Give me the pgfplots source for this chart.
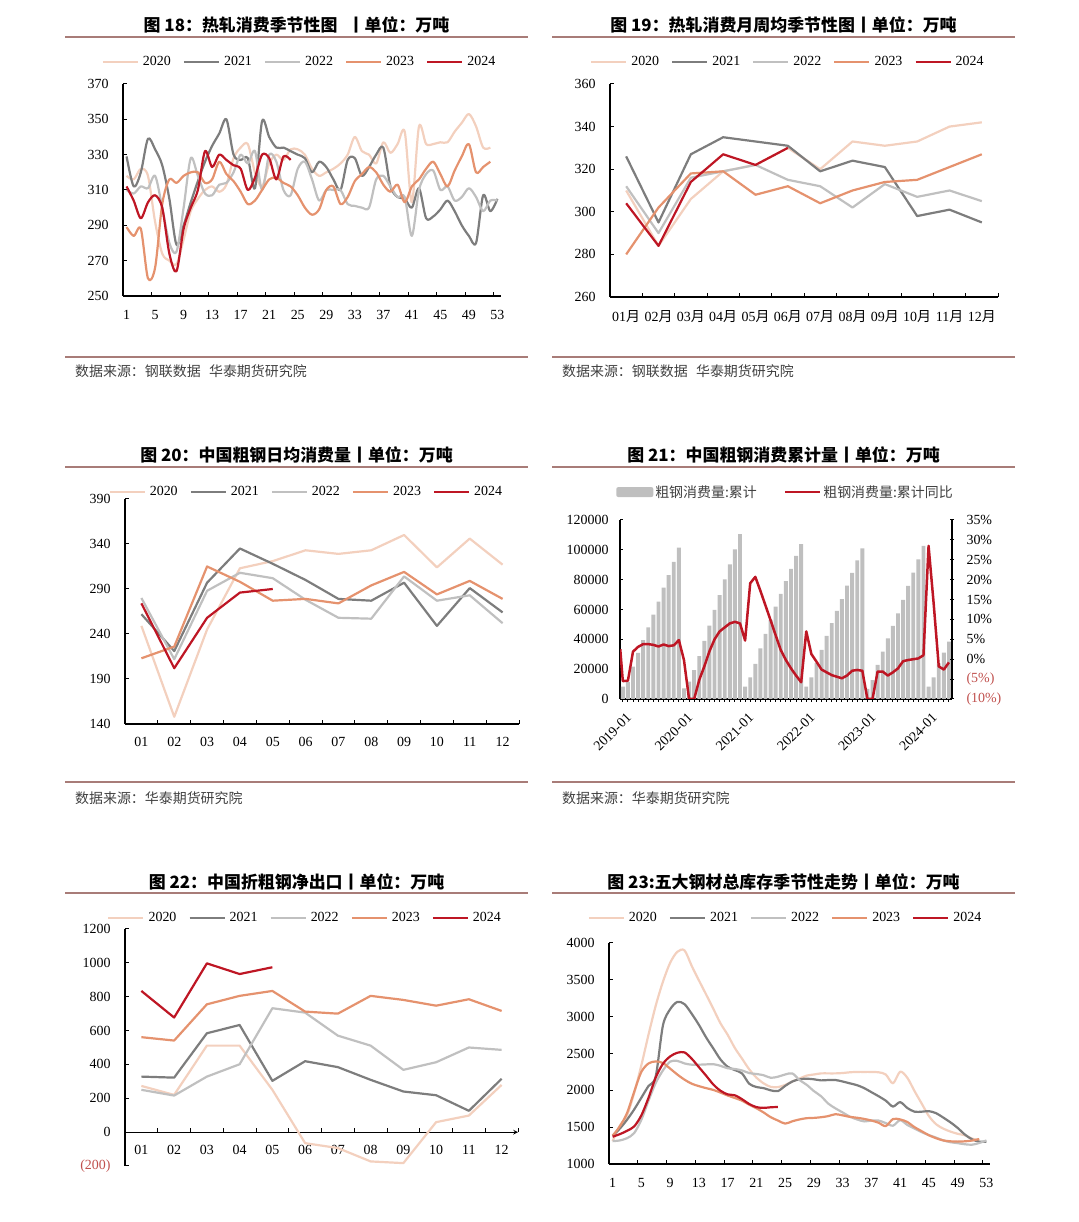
\documentclass[border=0pt]{standalone}
\usepackage{fontspec}
\usepackage{pgfplots}
\pgfplotsset{compat=1.18}
\setmainfont{Liberation Serif}
\newfontfamily\cjk{Noto Sans CJK SC}
\definecolor{c20}{RGB}{243,208,190}
\definecolor{c21}{RGB}{125,125,125}
\definecolor{c22}{RGB}{192,192,192}
\definecolor{c23}{RGB}{229,146,110}
\definecolor{c24}{RGB}{190,22,36}
\definecolor{cbar}{RGB}{191,191,191}
\definecolor{rulec}{RGB}{168,124,120}
\definecolor{negred}{RGB}{192,80,77}
\definecolor{srcc}{RGB}{64,64,64}
\newcommand\tfont{\fontsize{14}{16}\selectfont}
\newcommand\yue{{\cjk 月}}
\pgfplotsset{
  P/.style={
    scale only axis, anchor=south west,
    axis lines=left, axis line style={-, line width=1.1bp, black},
    every outer x axis line/.append style={-}, every outer y axis line/.append style={-},
    every inner x axis line/.append style={-}, every inner y axis line/.append style={-},
    enlargelimits=false,
    tick style={black, line width=1bp},
    tick align=inside, major tick length=4bp, minor tick length=4bp,
    tick label style={font=\tfont},
    yticklabel style={xshift=-11bp},
    /pgf/number format/assume math mode=true,
    /pgf/number format/fixed,
    /pgf/number format/1000 sep={},
    scaled ticks=false,
    legend columns=5, legend cell align=left,
    legend style={draw=none, fill=none, font=\tfont, inner sep=0pt, anchor=center,
      /tikz/every odd column/.style={column sep=3bp},
      /tikz/every even column/.style={column sep=11bp},
      nodes={inner sep=1bp}},
    legend image code/.code={\draw[#1] (0bp,0bp) -- (35bp,0bp);},
    every axis plot/.append style={line width=2.2bp, line join=round},
  },
  barlegend/.style={legend image code/.code={\fill[cbar, rounded corners=2bp] (0bp,-5bp) rectangle (37bp,5bp);}},
}
\begin{document}
\begin{tikzpicture}
\path[use as bounding box] (0,0) rectangle (1079bp,1222bp);
% ---------- titles, rules, sources ----------
\begin{scope}[every node/.style={font=\cjk\bfseries\fontsize{17}{20}\selectfont, anchor=center}]
\node at (296.5bp,1197bp) {图 18：热轧消费季节性图\hspace{0.6em}丨单位：万吨};
\node at (783.5bp,1197bp) {图 19：热轧消费月周均季节性图丨单位：万吨};
\node at (296.5bp,767bp) {图 20：中国粗钢日均消费量丨单位：万吨};
\node at (783.5bp,767bp) {图 21：中国粗钢消费累计量丨单位：万吨};
\node at (296.5bp,340bp) {图 22：中国折粗钢净出口丨单位：万吨};
\node at (783.5bp,340bp) {图 23:五大钢材总库存季节性走势丨单位：万吨};
\end{scope}
\begin{scope}[rulec, line width=1.6bp]
\draw (65bp,1185bp) -- (528bp,1185bp);
\draw (552bp,1185bp) -- (1015bp,1185bp);
\draw (65bp,865bp) -- (528bp,865bp);
\draw (552bp,865bp) -- (1015bp,865bp);
\draw (65bp,755bp) -- (528bp,755bp);
\draw (552bp,755bp) -- (1015bp,755bp);
\draw (65bp,440bp) -- (528bp,440bp);
\draw (552bp,440bp) -- (1015bp,440bp);
\draw (65bp,329bp) -- (528bp,329bp);
\draw (552bp,329bp) -- (1015bp,329bp);
\end{scope}
\begin{scope}[every node/.style={anchor=west, inner sep=0pt, text=srcc, font=\cjk\fontsize{14}{16}\selectfont}]
\node at (75bp,851bp) {数据来源：钢联数据\hspace{0.6em}华泰期货研究院};
\node at (562bp,851bp) {数据来源：钢联数据\hspace{0.6em}华泰期货研究院};
\node at (75bp,424bp) {数据来源：华泰期货研究院};
\node at (562bp,424bp) {数据来源：华泰期货研究院};
\end{scope}

% ---------- Fig 18 ----------
\begin{axis}[P, at={(123bp,926bp)}, width=378bp, height=212bp,
  xmin=0.5, xmax=53.5, ymin=250, ymax=370,
  xtick={0.5,4.5,...,52.5}, xticklabels={1,5,9,13,17,21,25,29,33,37,41,45,49,53},
  xticklabel style={xshift=3.57bp, yshift=-11bp},
  ytick={250,270,...,370},
  legend style={at={(0.4656,1.1038)}}]
\addplot[c20, smooth] coordinates {(1,318)(2,316)(3,322)(4,318)(5,292)(6,274)(7,270)(8,268)(9,282)(10,298)(11,305)(12,310)(13,312)(14,309)(15,313)(16,328)(17,334)(18,336)(19,320)(20,312)(21,325)(22,330)(23,327)(24,333)(25,333)(26,330)(27,322)(28,318)(29,320)(30,322)(31,325)(32,330)(33,340)(34,332)(35,330)(36,325)(37,337)(38,331)(39,336)(40,343)(41,303)(42,346)(43,336)(44,336)(45,337)(46,337)(47,343)(48,348)(49,353)(50,346)(51,334)(52,334)};
\addplot[c21, smooth] coordinates {(1,329)(2,312)(3,320)(4,339)(5,333)(6,324)(7,305)(8,279)(9,290)(10,303)(11,315)(12,326)(13,335)(14,342)(15,350)(16,330)(17,327)(18,328)(19,311)(20,349)(21,340)(22,334)(23,334)(24,332)(25,330)(26,328)(27,320)(28,326)(29,323)(30,316)(31,310)(32,327)(33,328)(34,318)(35,323)(36,330)(37,334)(38,312)(39,306)(40,305)(41,300)(42,311)(43,294)(44,295)(45,299)(46,304)(47,298)(48,290)(49,284)(50,280)(51,307)(52,298)(53,305)};
\addplot[c22, smooth] coordinates {(1,310)(2,308)(3,312)(4,311)(5,318)(6,300)(7,280)(8,275)(9,300)(10,328)(11,318)(12,308)(13,307)(14,313)(15,314)(16,320)(17,330)(18,325)(19,332)(20,310)(21,330)(22,326)(23,310)(24,307)(25,322)(26,326)(27,316)(28,304)(29,310)(30,310)(31,310)(32,302)(33,301)(34,300)(35,300)(36,316)(37,318)(38,312)(39,306)(40,306)(41,284)(42,310)(43,319)(44,321)(45,310)(46,312)(47,304)(48,306)(49,311)(50,306)(51,298)(52,304)(53,304)};
\addplot[c23, smooth] coordinates {(1,289)(2,284)(3,288)(4,260)(5,266)(6,302)(7,316)(8,314)(9,318)(10,320)(11,320)(12,314)(13,316)(14,326)(15,319)(16,315)(17,309)(18,302)(19,304)(20,310)(21,316)(22,317)(23,314)(24,312)(25,307)(26,300)(27,296)(28,299)(29,310)(30,312)(31,302)(32,306)(33,315)(34,319)(35,323)(36,320)(37,313)(38,309)(39,313)(40,303)(41,312)(42,316)(43,322)(44,326)(45,319)(46,312)(47,321)(48,329)(49,336)(50,320)(51,323)(52,326)};
\addplot[c24, smooth] coordinates {(1,312)(2,304)(3,294)(4,303)(5,307)(6,300)(7,274)(8,264)(9,288)(10,300)(11,310)(12,332)(13,323)(14,330)(15,327)(16,324)(17,322)(18,310)(19,317)(20,330)(21,328)(22,316)(23,329)(24,327)};
\legend{2020,2021,2022,2023,2024}
\end{axis}

% ---------- Fig 19 ----------
\begin{axis}[P, at={(610bp,925bp)}, width=388bp, height=213bp,
  xmin=0.5, xmax=12.5, ymin=260, ymax=360,
  xtick={0.5,1.5,...,12.5}, x tick label as interval,
  xticklabels={01\yue,02\yue,03\yue,04\yue,05\yue,06\yue,07\yue,08\yue,09\yue,10\yue,11\yue,12\yue},
  xticklabel style={yshift=-10bp},
  ytick={260,280,...,360},
  legend style={at={(0.457,1.103)}}]
\addplot[c20] coordinates {(1,310)(2,284)(3,306)(4,319)(5,322)(6,330)(7,320)(8,333)(9,331)(10,333)(11,340)(12,342)};
\addplot[c21] coordinates {(1,326)(2,295)(3,327)(4,335)(5,333)(6,331)(7,319)(8,324)(9,321)(10,298)(11,301)(12,295)};
\addplot[c22] coordinates {(1,312)(2,290)(3,316)(4,319)(5,322)(6,315)(7,312)(8,302)(9,313)(10,307)(11,310)(12,305)};
\addplot[c23] coordinates {(1,280)(2,302)(3,318)(4,319)(5,308)(6,312)(7,304)(8,310)(9,314)(10,315)(11,321)(12,327)};
\addplot[c24] coordinates {(1,304)(2,284)(3,314)(4,327)(5,322)(6,330)};
\legend{2020,2021,2022,2023,2024}
\end{axis}

% ---------- Fig 20 ----------
\begin{axis}[P, at={(125bp,498bp)}, width=394bp, height=225bp,
  xmin=0.5, xmax=12.5, ymin=140, ymax=390,
  xtick={0.5,1.5,...,12.5}, x tick label as interval,
  xticklabels={01,02,03,04,05,06,07,08,09,10,11,12},
  xticklabel style={yshift=-10bp},
  ytick={140,190,...,390},
  legend style={at={(0.459,1.031)}}]
\addplot[c20] coordinates {(1,249)(2,148)(3,245)(4,313)(5,321)(6,333)(7,329)(8,333)(9,350)(10,314)(11,346)(12,317)};
\addplot[c21] coordinates {(1,262)(2,221)(3,297)(4,335)(5,318)(6,300)(7,279)(8,277)(9,297)(10,249)(11,291)(12,264)};
\addplot[c22] coordinates {(1,280)(2,212)(3,288)(4,308)(5,302)(6,278)(7,258)(8,257)(9,304)(10,277)(11,283)(12,252)};
\addplot[c23] coordinates {(1,213)(2,226)(3,315)(4,298)(5,277)(6,279)(7,274)(8,294)(9,309)(10,284)(11,299)(12,279)};
\addplot[c24] coordinates {(1,274)(2,202)(3,258)(4,286)(5,290)};
\legend{2020,2021,2022,2023,2024}
\end{axis}

% ---------- Fig 21 ----------
\begin{axis}[P, at={(620bp,523bp)}, width=332bp, height=179bp,
  xmin=-0.55, xmax=64.6, ymin=0, ymax=120000,
  ytick={0,20000,40000,60000,80000,100000,120000},
  yticklabels={0,20000,40000,60000,80000,100000,120000},
  yticklabel style={xshift=3bp},
  xtick={0,12,24,36,48,60},
  xticklabels={2019-01,2020-01,2021-01,2022-01,2023-01,2024-01},
  minor xtick={0,1,...,64}, xtick align=outside, major tick length=3bp, minor tick length=3bp,
  xticklabel style={rotate=45, anchor=east, yshift=-14bp, xshift=-2bp},
  legend columns=2,
  legend style={at={(0.497,1.156)}, text=srcc,
    /tikz/every odd column/.style={column sep=1bp},
    /tikz/every even column/.style={column sep=26bp}}]
\addplot[ybar, bar width=3.9bp, fill=cbar, draw=none, barlegend]
 coordinates {(0,8300)(1,11500)(2,21700)(3,31000)(4,39500)(5,48000)(6,56500)(7,65300)(8,74600)(9,83000)(10,92000)(11,101500)
 (12,7200)(13,11600)(14,19400)(15,28800)(16,38900)(17,49200)(18,59700)(19,69700)(20,80200)(21,90300)(22,100300)(23,110600)
 (24,8300)(25,14500)(26,23500)(27,34000)(28,43600)(29,53000)(30,61900)(31,70400)(32,79100)(33,87200)(34,95900)(35,103900)
 (36,8300)(37,14500)(38,24000)(39,33000)(40,42300)(41,50800)(42,59000)(43,67000)(44,76000)(45,84500)(46,93000)(47,101000)
 (48,6700)(49,12700)(50,22800)(51,31700)(52,40700)(53,49000)(54,57400)(55,66400)(56,75800)(57,84700)(58,93600)(59,102600)
 (60,8300)(61,14500)(62,23900)(63,31100)(64,38400)};
\addlegendentry{\cjk 粗钢消费量:累计}
\addlegendimage{c24, line width=2.5bp}
\addlegendentry{\cjk 粗钢消费量:累计同比}
\end{axis}
\begin{axis}[P, at={(620bp,523bp)}, width=332bp, height=179bp,
  xmin=-0.55, xmax=64.6, ymin=-10, ymax=35,
  axis x line=none, axis y line=right, axis line style={-, line width=1.1bp, black},
  ytick={-10,-5,...,35},
  yticklabels={\textcolor{negred}{(10\%)},\textcolor{negred}{(5\%)},0\%,5\%,10\%,15\%,20\%,25\%,30\%,35\%},
  yticklabel style={xshift=20bp}]
\addplot[c24, line width=2.5bp] coordinates {(-0.5,2.5)(0,-5.5)(1,-5.4)(2,1.9)(3,3.1)(4,3.8)(5,3.8)(6,3.6)(7,3.2)(8,3.7)(9,3.3)(10,3.5)(11,4.8)
 (12,-0.2)(13,-10)(14,-10)(15,-5.2)(16,-1.8)(17,2)(18,5)(19,7)(20,8)(21,9)(22,9.4)(23,9)
 (24,4.7)(25,19.1)(26,20.7)(27,17.2)(28,13.5)(29,9.8)(30,6)(31,2.3)(32,-0.2)(33,-2.3)(34,-4.1)(35,-5.8)
 (36,7)(37,1.3)(38,-0.6)(39,-2.6)(40,-3.3)(41,-4)(42,-4.4)(43,-4.8)(44,-4.1)(45,-2.9)(46,-2.7)(47,-2.9)
 (48,-10)(49,-10)(50,-3.1)(51,-3.1)(52,-4.1)(53,-3.3)(54,-2.3)(55,-0.5)(56,-0.2)(57,0)(58,0.2)(59,1.0)
 (60,28.5)(61,14)(62,-1.8)(63,-2.6)(64,-0.8)};
\end{axis}

% ---------- Fig 22 ----------
\begin{axis}[P, at={(125bp,56bp)}, width=393bp, height=237bp,
  xmin=0.5, xmax=12.5, ymin=-200, ymax=1200,
  axis x line=middle, axis y line*=left, hide obscured x ticks=false,
  xtick={0.5,1.5,...,12.5}, x tick label as interval,
  xtick align=center, xtick style={yshift=2bp},
  xticklabels={01,02,03,04,05,06,07,08,09,10,11,12},
  xticklabel style={yshift=-8bp},
  ytick={-200,0,200,400,600,800,1000,1200},
  yticklabels={\textcolor{negred}{(200)},0,200,400,600,800,1000,1200},
  legend style={at={(0.457,1.046)}}]
\addplot[c20] coordinates {(1,273)(2,220)(3,511)(4,511)(5,250)(6,-65)(7,-94)(8,-173)(9,-183)(10,59)(11,98)(12,279)};
\addplot[c21] coordinates {(1,328)(2,322)(3,584)(4,633)(5,303)(6,419)(7,384)(8,309)(9,240)(10,218)(11,126)(12,315)};
\addplot[c22] coordinates {(1,250)(2,216)(3,328)(4,401)(5,732)(6,706)(7,570)(8,511)(9,368)(10,413)(11,500)(12,486)};
\addplot[c23] coordinates {(1,561)(2,541)(3,755)(4,805)(5,834)(6,712)(7,700)(8,805)(9,781)(10,747)(11,785)(12,716)};
\addplot[c24] coordinates {(1,834)(2,677)(3,997)(4,934)(5,974)};
\legend{2020,2021,2022,2023,2024}
\end{axis}

% ---------- Fig 23 ----------
\begin{axis}[P, at={(609bp,58bp)}, width=381bp, height=221bp,
  xmin=0.5, xmax=53.5, ymin=1000, ymax=4000,
  xtick={0.5,4.5,...,52.5}, xticklabels={1,5,9,13,17,21,25,29,33,37,41,45,49,53},
  xticklabel style={xshift=3.6bp, yshift=-11bp},
  ytick={1000,1500,...,4000},
  legend style={at={(0.462,1.113)}}]
\addplot[c20, smooth] coordinates {(1,1310)(2,1520)(3,1660)(4,1964)(5,2340)(6,2758)(7,3150)(8,3473)(9,3730)(10,3880)(11,3900)(12,3690)(13,3494)(14,3303)(15,3109)(16,2911)(17,2755)(18,2576)(19,2431)(20,2286)(21,2173)(22,2095)(23,2047)(24,2044)(25,2073)(26,2120)(27,2160)(28,2200)(29,2215)(30,2230)(31,2230)(32,2230)(33,2235)(34,2245)(35,2250)(36,2250)(37,2250)(38,2245)(39,2215)(40,2095)(41,2253)(42,2170)(43,1990)(44,1820)(45,1650)(46,1540)(47,1480)(48,1440)(49,1410)(50,1390)(51,1345)(52,1320)};
\addplot[c21, smooth] coordinates {(1,1385)(2,1480)(3,1600)(4,1740)(5,1900)(6,2060)(7,2190)(8,2880)(9,3100)(10,3200)(11,3170)(12,3040)(13,2890)(14,2720)(15,2570)(16,2420)(17,2320)(18,2275)(19,2230)(20,2090)(21,2045)(22,2030)(23,2000)(24,1990)(25,2060)(26,2120)(27,2150)(28,2158)(29,2150)(30,2135)(31,2140)(32,2140)(33,2120)(34,2095)(35,2070)(36,2030)(37,1975)(38,1920)(39,1860)(40,1780)(41,1840)(42,1760)(43,1710)(44,1710)(45,1717)(46,1690)(47,1630)(48,1565)(49,1490)(50,1400)(51,1335)(52,1303)(53,1303)};
\addplot[c22, smooth] coordinates {(1,1310)(2,1320)(3,1350)(4,1420)(5,1600)(6,1860)(7,2100)(8,2270)(9,2390)(10,2400)(11,2365)(12,2348)(13,2348)(14,2352)(15,2355)(16,2333)(17,2300)(18,2290)(19,2270)(20,2234)(21,2222)(22,2205)(23,2170)(24,2185)(25,2215)(26,2230)(27,2140)(28,2075)(29,1990)(30,1920)(31,1820)(32,1755)(33,1700)(34,1643)(35,1605)(36,1578)(37,1590)(38,1590)(39,1555)(40,1520)(41,1595)(42,1530)(43,1480)(44,1432)(45,1392)(46,1358)(47,1320)(48,1296)(49,1283)(50,1268)(51,1262)(52,1285)(53,1320)};
\addplot[c23, smooth] coordinates {(1,1385)(2,1510)(3,1690)(4,1980)(5,2250)(6,2365)(7,2392)(8,2371)(9,2295)(10,2215)(11,2145)(12,2090)(13,2057)(14,2030)(15,2006)(16,1970)(17,1930)(18,1896)(19,1860)(20,1805)(21,1757)(22,1700)(23,1635)(24,1590)(25,1548)(26,1580)(27,1605)(28,1622)(29,1626)(30,1635)(31,1650)(32,1676)(33,1660)(34,1640)(35,1628)(36,1612)(37,1590)(38,1560)(39,1515)(40,1610)(41,1605)(42,1570)(43,1500)(44,1445)(45,1390)(46,1350)(47,1320)(48,1308)(49,1304)(50,1308)(51,1318)(52,1339)};
\addplot[c24, smooth] coordinates {(1,1370)(2,1405)(3,1450)(4,1510)(5,1660)(6,1900)(7,2175)(8,2360)(9,2460)(10,2510)(11,2515)(12,2430)(13,2315)(14,2200)(15,2080)(16,1995)(17,1945)(18,1933)(19,1880)(20,1815)(21,1772)(22,1762)(23,1770)(24,1774)};
\legend{2020,2021,2022,2023,2024}
\end{axis}
\end{tikzpicture}
\end{document}
